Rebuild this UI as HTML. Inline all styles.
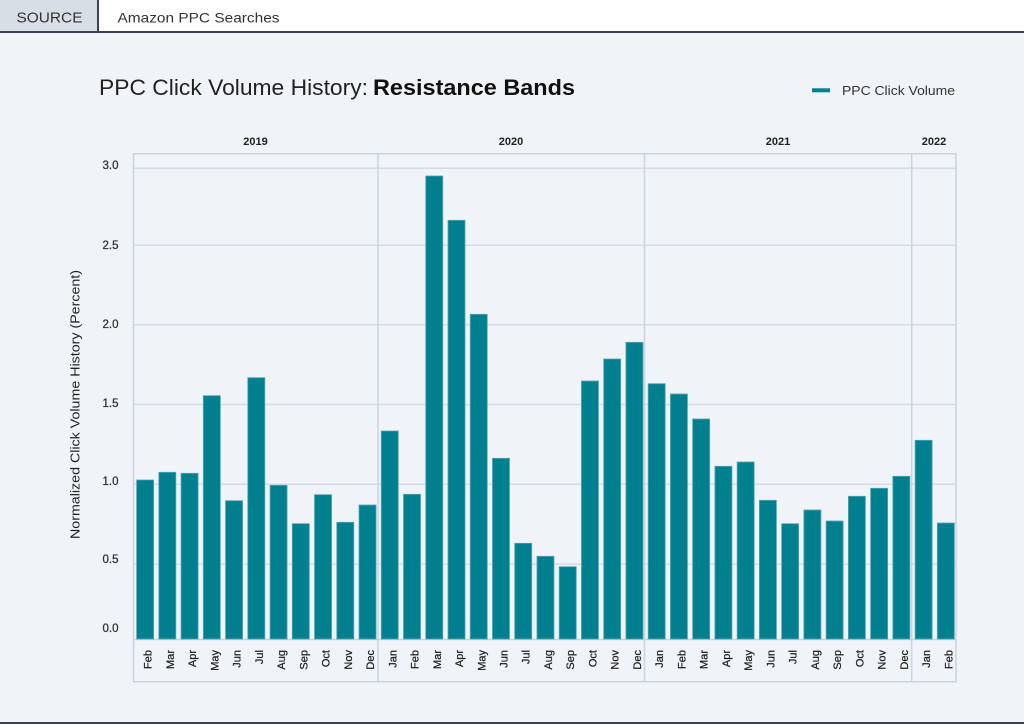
<!DOCTYPE html>
<html>
<head>
<meta charset="utf-8">
<style>
html,body{margin:0;padding:0;background:#f0f4f8;}
body{width:1024px;height:724px;overflow:hidden;}
svg{display:block;font-family:"Liberation Sans",sans-serif;}
</style>
</head>
<body>
<svg width="1024" height="724" viewBox="0 0 1024 724" xmlns="http://www.w3.org/2000/svg">
<rect x="0" y="0" width="1024" height="724" fill="#f0f4f8"/>
<!-- top bar -->
<rect x="0" y="0" width="1024" height="32" fill="#ffffff"/>
<rect x="0" y="0" width="98" height="32" fill="#d7dee6"/>
<rect x="97" y="0" width="2" height="32" fill="#3b4452"/>
<rect x="0" y="31" width="1024" height="2" fill="#3b4452"/>
<text x="16.5" y="22.5" font-size="15" fill="#333" textLength="66" lengthAdjust="spacingAndGlyphs">SOURCE</text>
<text x="117.5" y="22.5" font-size="14" fill="#333" textLength="162" lengthAdjust="spacingAndGlyphs">Amazon PPC Searches</text>
<!-- bottom line -->
<rect x="0" y="722" width="1024" height="2" fill="#3b4452"/>

<!-- title -->
<text x="99" y="95" font-size="22" fill="#222" textLength="269" lengthAdjust="spacingAndGlyphs">PPC Click Volume History:</text>
<text x="373" y="95" font-size="22" font-weight="bold" fill="#111" textLength="202" lengthAdjust="spacingAndGlyphs">Resistance Bands</text>

<!-- legend -->
<rect x="812" y="88.3" width="18" height="4" fill="#00808f"/>
<text x="842" y="95" font-size="13" fill="#333" textLength="113" lengthAdjust="spacingAndGlyphs">PPC Click Volume</text>

<!-- year labels -->
<g font-size="11" font-weight="bold" fill="#222" text-anchor="middle">
<text x="255.5" y="145">2019</text>
<text x="511" y="145">2020</text>
<text x="778" y="145">2021</text>
<text x="934" y="145">2022</text>
</g>

<!-- gridlines -->
<g stroke="#d3dce5" stroke-width="1.5">
<line x1="133" x2="956" y1="168.3" y2="168.3"/>
<line x1="133" x2="956" y1="245.3" y2="245.3"/>
<line x1="133" x2="956" y1="324.7" y2="324.7"/>
<line x1="133" x2="956" y1="404.5" y2="404.5"/>
<line x1="133" x2="956" y1="484.2" y2="484.2"/>
<line x1="133" x2="956" y1="564.2" y2="564.2"/>
</g>

<!-- plot box and dividers -->
<g stroke="#c9d3de" stroke-width="1.5" fill="none">
<rect x="133.5" y="153.8" width="822.5" height="528"/>
<line x1="378" x2="378" y1="154" y2="682"/>
<line x1="644.5" x2="644.5" y1="154" y2="682"/>
<line x1="911.7" x2="911.7" y1="154" y2="682"/>
<line x1="133" x2="956" y1="639.5" y2="639.5"/>
</g>

<!-- y tick labels -->
<g font-size="11.5" fill="#333" stroke="#333" stroke-width="0.3" text-anchor="end">
<text x="118.5" y="169">3.0</text>
<text x="118.5" y="249">2.5</text>
<text x="118.5" y="328">2.0</text>
<text x="118.5" y="407">1.5</text>
<text x="118.5" y="485">1.0</text>
<text x="118.5" y="563">0.5</text>
<text x="118.5" y="632">0.0</text>
</g>

<!-- y axis title -->
<text transform="translate(79.5,404.5) rotate(-90)" x="0" y="0" font-size="13" fill="#222" text-anchor="middle" textLength="269" lengthAdjust="spacingAndGlyphs">Normalized Click Volume History (Percent)</text>

<!-- bars -->
<g id="bars" fill="#00808f" stroke="#4fa6b3" stroke-width="0.8"></g>
<g id="months" font-size="11" fill="#222" stroke="#222" stroke-width="0.25" text-anchor="end"></g>
</svg>
<script>
(function(){
var tops=[480,472.3,473.3,395.7,500.7,377.7,485.3,523.7,494.7,522.3,505,
431,494.3,176,220.3,314.3,458.3,543.3,556.3,566.7,381,359,342.3,
383.7,394,419,466.3,462,500.3,523.7,510,521,496.3,488.3,476.3,
440.3,523];
var m=["Feb","Mar","Apr","May","Jun","Jul","Aug","Sep","Oct","Nov","Dec",
"Jan","Feb","Mar","Apr","May","Jun","Jul","Aug","Sep","Oct","Nov","Dec",
"Jan","Feb","Mar","Apr","May","Jun","Jul","Aug","Sep","Oct","Nov","Dec",
"Jan","Feb"];
var ns="http://www.w3.org/2000/svg";
var bg=document.getElementById("bars"),mg=document.getElementById("months");
for(var i=0;i<tops.length;i++){
var x=136.6+22.243*i;
var r=document.createElementNS(ns,"rect");
r.setAttribute("x",x.toFixed(2));
r.setAttribute("y",tops[i]);
r.setAttribute("width","17");
r.setAttribute("height",(639-tops[i]).toFixed(2));
bg.appendChild(r);
var t=document.createElementNS(ns,"text");
var cx=x+8.5;
t.setAttribute("transform","translate("+(cx+6.5).toFixed(2)+",650) rotate(-90)");
t.setAttribute("x","0");t.setAttribute("y","0");
t.textContent=m[i];
mg.appendChild(t);
}
})();
</script>
</body>
</html>
